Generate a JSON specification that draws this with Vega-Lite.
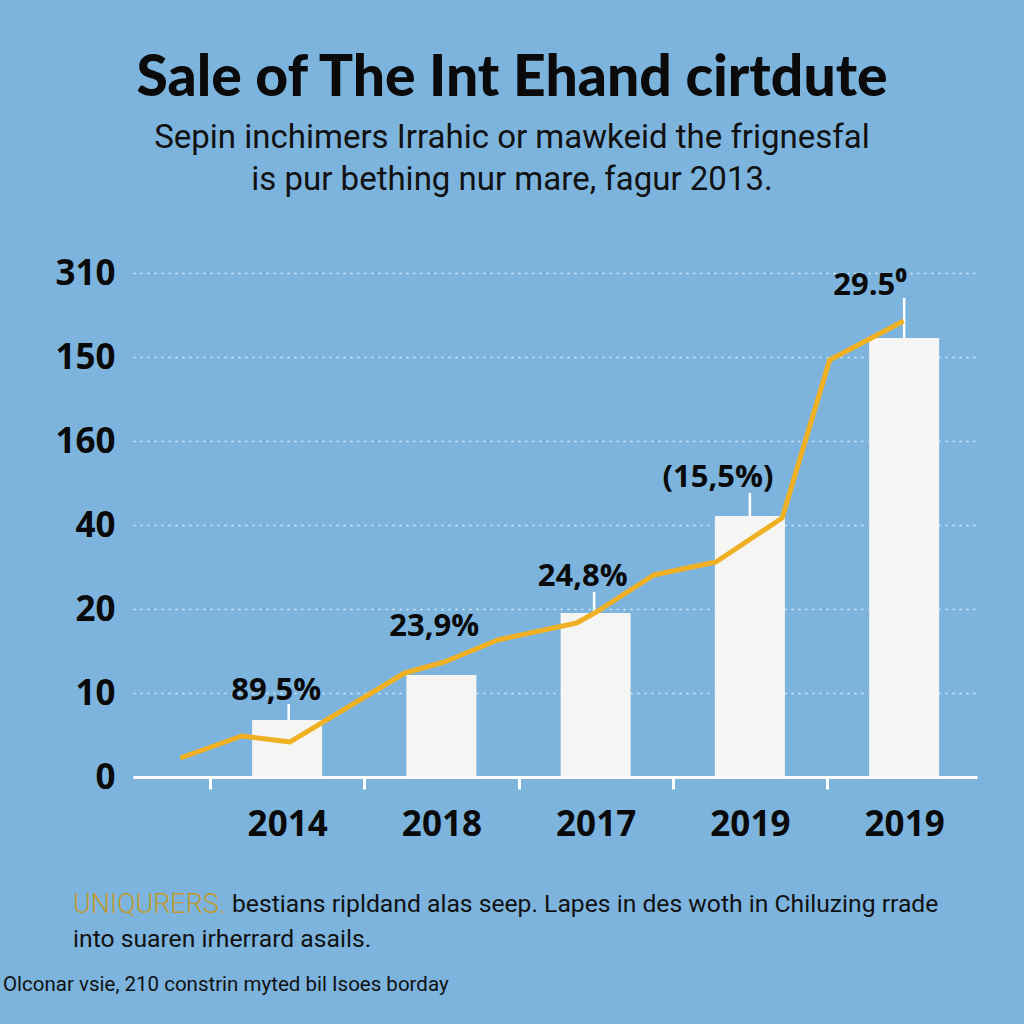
{
  "$schema": "https://vega.github.io/schema/vega-lite/v6.json",
  "width": 844,
  "height": 504,
  "autosize": {"type": "none"},
  "padding": {"left": 133, "top": 273, "right": 47, "bottom": 247},
  "background": "#7cb4de",
  "config": {"view": {"stroke": null}, "font": "Open Sans"},
  "title": {
    "text": "Sale of The Int Ehand cirtdute",
    "subtitle": ["Sepin inchimers Irrahic or mawkeid the frignesfal", "is pur bething nur mare, fagur 2013."],
    "anchor": "middle",
    "frame": "group",
    "dx": -43,
    "font": "Lato",
    "fontWeight": 900,
    "fontSize": 57,
    "color": "#0a0a0a",
    "subtitleFont": "Roboto",
    "subtitleFontSize": 33,
    "subtitleColor": "#111111",
    "subtitleLineHeight": 42,
    "subtitlePadding": 14,
    "offset": 58
  },
  "datasets": {
    "bars": [
      {"i": 0, "v": 0.679, "label": "89,5%", "lx": -0.071, "ly": 1.024},
      {"i": 1, "v": 1.214, "label": "23,9%", "lx": 0.954, "ly": 1.786},
      {"i": 2, "v": 1.952, "label": "24,8%", "lx": 1.916, "ly": 2.381},
      {"i": 3, "v": 3.107, "label": "(15,5%)", "lx": 2.793, "ly": 3.56},
      {"i": 4, "v": 5.226, "label": "29.5⁰", "lx": 3.78, "ly": 5.845}
    ],
    "stems": [
      {"i": 0.01, "v": 0.679, "top": 0.869},
      {"i": 1.99, "v": 1.952, "top": 2.202},
      {"i": 3.0, "v": 3.107, "top": 3.381},
      {"i": 4.0, "v": 5.226, "top": 5.702}
    ],
    "line": [
      {"x": -0.692, "y": 0.226},
      {"x": -0.295, "y": 0.488},
      {"x": 0.019, "y": 0.417},
      {"x": 0.762, "y": 1.238},
      {"x": 1.019, "y": 1.369},
      {"x": 1.365, "y": 1.631},
      {"x": 1.877, "y": 1.833},
      {"x": 2.005, "y": 1.964},
      {"x": 2.377, "y": 2.405},
      {"x": 2.78, "y": 2.56},
      {"x": 3.209, "y": 3.083},
      {"x": 3.517, "y": 4.964},
      {"x": 3.997, "y": 5.429}
    ]
  },
  "layer": [
    {
      "data": {"name": "bars"},
      "mark": {"type": "bar", "width": 70, "color": "#f5f5f3"},
      "encoding": {
        "x": {
          "field": "i", "type": "quantitative",
          "scale": {"domain": [-0.967, 4.44], "nice": false, "zero": false},
          "axis": {
            "values": [0, 1, 2, 3, 4],
            "labelExpr": "['2014','2018','2017','2019','2019'][datum.value]",
            "ticks": false, "grid": false,
            "domain": true, "domainColor": "#ffffff", "domainWidth": 3,
            "labelFont": "Open Sans", "labelFontWeight": "bold", "labelFontSize": 35,
            "labelColor": "#0a0a0a", "labelPadding": 30, "labelFlush": false, "labelOverlap": false,
            "title": null, "orient": "bottom"
          }
        },
        "y": {
          "field": "v", "type": "quantitative",
          "scale": {"domain": [0, 6], "nice": false},
          "axis": {
            "values": [0, 1, 2, 3, 4, 5, 6],
            "labelExpr": "['0','10','20','40','160','150','310'][datum.value]",
            "ticks": false, "domain": false,
            "grid": true, "gridColor": "#ffffff", "gridDash": [2, 5], "gridOpacity": 0.75, "gridWidth": 1.5,
            "labelFont": "Open Sans", "labelFontWeight": "bold", "labelFontSize": 35,
            "labelColor": "#0a0a0a", "labelPadding": 18, "labelFlush": false, "labelOverlap": false,
            "title": null, "orient": "left"
          }
        }
      }
    },
    {
      "data": {"name": "stems"},
      "mark": {"type": "rule", "color": "#ffffff", "strokeWidth": 2.5},
      "encoding": {
        "x": {
          "field": "i", "type": "quantitative",
          "axis": {
            "values": [-0.5, 0.5, 1.5, 2.5, 3.5],
            "labels": false, "ticks": true, "tickColor": "#ffffff", "tickWidth": 3, "tickSize": 12,
            "domain": false, "grid": false, "title": null, "orient": "bottom"
          }
        },
        "y": {"field": "v", "type": "quantitative", "axis": null},
        "y2": {"field": "top"}
      }
    },
    {
      "data": {"name": "line"},
      "mark": {"type": "line", "color": "#f0b024", "strokeWidth": 5, "strokeJoin": "round"},
      "encoding": {
        "x": {"field": "x", "type": "quantitative", "axis": null},
        "y": {"field": "y", "type": "quantitative", "axis": null}
      }
    },
    {
      "data": {"name": "bars"},
      "mark": {"type": "text", "font": "Open Sans", "fontWeight": "bold", "fontSize": 31, "color": "#0a0a0a", "align": "center", "baseline": "middle"},
      "encoding": {
        "x": {"field": "lx", "type": "quantitative", "axis": null},
        "y": {"field": "ly", "type": "quantitative", "axis": null},
        "text": {"field": "label"}
      }
    },
    {
      "data": {"values": [{}]},
      "mark": {"type": "text", "text": "UNIQURERS.", "x": -60, "y": 632, "align": "left", "baseline": "middle", "font": "Roboto", "fontWeight": 300, "fontSize": 27, "color": "#c09a2c"}
    },
    {
      "data": {"values": [{}]},
      "mark": {"type": "text", "text": "bestians ripldand alas seep. Lapes in des woth in Chiluzing rrade", "x": 99, "y": 632, "align": "left", "baseline": "middle", "font": "Roboto", "fontSize": 24.7, "color": "#111111"}
    },
    {
      "data": {"values": [{}]},
      "mark": {"type": "text", "text": "into suaren irherrard asails.", "x": -60, "y": 667, "align": "left", "baseline": "middle", "font": "Roboto", "fontSize": 24.7, "color": "#111111"}
    },
    {
      "data": {"values": [{}]},
      "mark": {"type": "text", "text": "Olconar vsie, 210 constrin myted bil Isoes borday", "x": -130, "y": 712, "align": "left", "baseline": "middle", "font": "Roboto", "fontSize": 20.5, "color": "#111111"}
    }
  ],
  "resolve": {"axis": {"x": "independent", "y": "independent"}}
}
